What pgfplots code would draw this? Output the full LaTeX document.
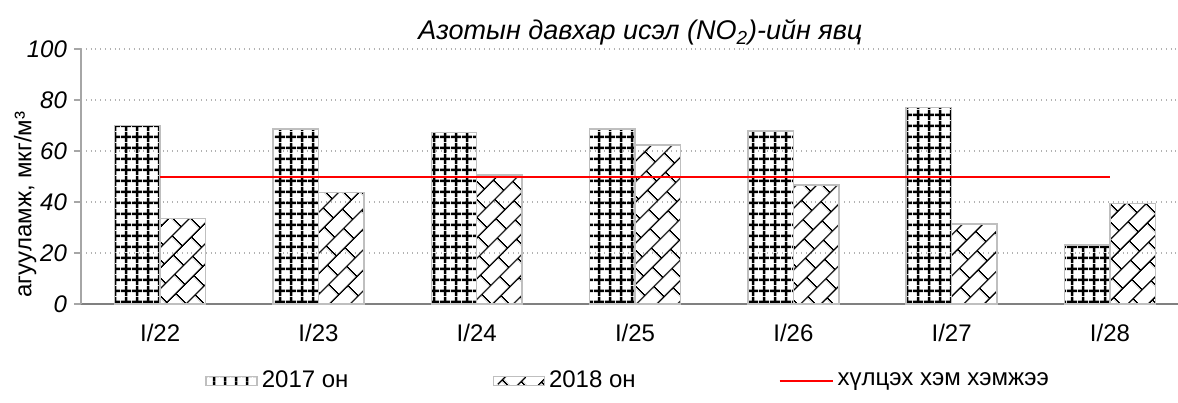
\documentclass[border=0pt]{standalone}
\usepackage{fontspec}
\setmainfont{Liberation Sans}
\usepackage{pgfplots}
\pgfplotsset{compat=1.18}
\usetikzlibrary{patterns.meta}

\tikzdeclarepattern{
  name=mygrid,
  type=uncolored,
  bottom left={(0pt,0pt)},
  top right={(5.5pt,5.3pt)},
  tile size={(5.5pt,5.3pt)},
  code={
    \draw[line width=1.4pt] (0pt,2.65pt) -- (5.5pt,2.65pt);
    \draw[line width=1.4pt] (2.75pt,0pt) -- (2.75pt,5.3pt);
  }
}
\tikzdeclarepattern{
  name=diagbricks,
  type=uncolored,
  bottom left={(0pt,0pt)},
  top right={(13pt,15pt)},
  tile size={(13pt,15pt)},
  tile transformation={rotate=45},
  code={
    \draw[line width=0.75pt] (0pt,3.75pt) -- (13pt,3.75pt);
    \draw[line width=0.75pt] (0pt,11.25pt) -- (13pt,11.25pt);
    \draw[line width=0.75pt] (3.25pt,3.75pt) -- (3.25pt,11.25pt);
    \draw[line width=0.75pt] (9.75pt,11.25pt) -- (9.75pt,15pt);
    \draw[line width=0.75pt] (9.75pt,0pt) -- (9.75pt,3.75pt);
  }
}

\definecolor{bordergray}{RGB}{191,191,191}
\definecolor{axgray}{RGB}{166,166,166}
\definecolor{xgray}{RGB}{128,128,128}

\pgfplotsset{
  barleg/.style={legend image code/.code={\draw[##1] (0pt,-2.3pt) rectangle (25.5pt,2.3pt);}},
  lineleg/.style={legend image code/.code={\draw[##1] (0pt,0pt) -- (26.5pt,0pt);}},
}

\begin{document}
\begin{tikzpicture}
\path[use as bounding box] (-40.5pt,-49pt) rectangle (548.5pt,152pt);
\begin{axis}[
  at={(0pt,0pt)}, anchor=south west,
  scale only axis,
  width=548.5pt, height=127.5pt,
  ybar,
  ymin=0, ymax=100,
  ytick={0,20,40,60,80,100},
  xmin=-0.5, xmax=6.43,
  xtick={0,1,2,3,4,5,6},
  xticklabels={I/22,I/23,I/24,I/25,I/26,I/27,I/28},
  axis x line*=bottom,
  axis y line*=left,
  x axis line style={xgray, line width=0.8pt, -},
  y axis line style={axgray, line width=0.8pt, -},
  xtick style={draw=none},
  ytick style={axgray, line width=0.8pt},
  tick align=outside,
  major tick length=3.5pt,
  ymajorgrids,
  grid style={gray!60, dotted, line width=0.6pt},
  /pgf/number format/assume math mode=true,
  yticklabel style={font=\fontsize{12}{14}\selectfont\itshape},
  xticklabel style={font=\fontsize{12}{14}\selectfont, yshift=-3pt},
  ylabel={агууламж, мкг/м³},
  ylabel style={at={(axis description cs:-0.051,0.39)}, anchor=center, font=\fontsize{12}{14}\selectfont},
  title={Азотын давхар исэл (NO\textsubscript{2})-ийн явц},
  title style={at={(axis description cs:0.51,1)}, anchor=base, yshift=-1.5pt, inner sep=0pt, font=\fontsize{13.5}{16}\selectfont\itshape},
  legend style={at={(axis description cs:0.113,-0.302)}, anchor=west, draw=none, inner sep=0pt,
    font=\fontsize{12}{14}\selectfont},
  legend columns=3,
  legend cell align=left,
]
\addplot[bar width=0.287, bar shift=-0.1435, draw=bordergray, line width=0.75pt, pattern={mygrid}, pattern color=black, barleg]
  coordinates {(0,70) (1,68.6) (2,67.2) (3,68.6) (4,67.8) (5,77) (6,23.1)};
\addlegendentry{2017 он\hspace*{70pt}}
\addplot[bar width=0.287, bar shift=0.1435, draw=bordergray, line width=0.75pt, pattern={diagbricks}, pattern color=black, barleg]
  coordinates {(0,33.6) (1,43.7) (2,50.6) (3,62.4) (4,46.7) (5,31.4) (6,39.5)};
\addlegendentry{2018 он\hspace*{69.5pt}}
\addplot[sharp plot, red, line width=1pt, mark=none, lineleg]
  coordinates {(0,50) (6,50)};
\addlegendentry{хүлцэх хэм хэмжээ}
\end{axis}
\end{tikzpicture}
\end{document}
